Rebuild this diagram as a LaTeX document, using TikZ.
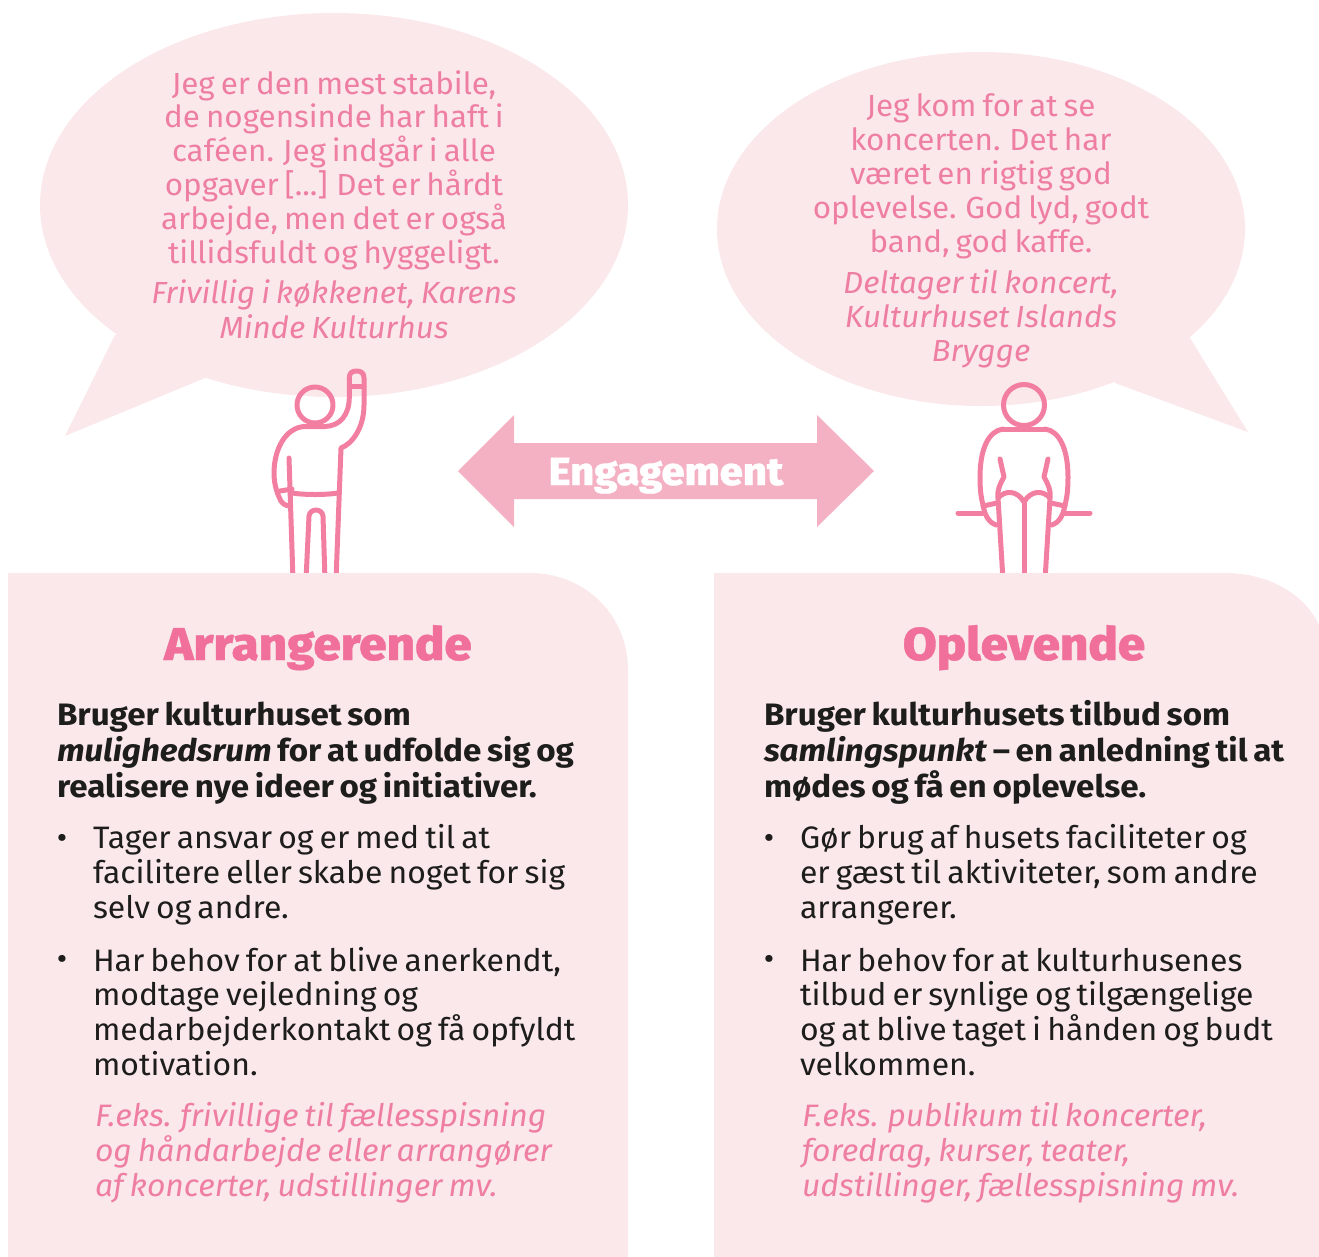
\documentclass[tikz,border=0pt]{standalone}
\usepackage{fontspec}
\setmainfont{Fira Sans}[FakeStretch=1.03,WordSpace=0.72,BoldFont={Fira Sans Bold},BoldItalicFont={Fira Sans Bold Italic},BoldFeatures={FakeStretch=1.07},BoldItalicFeatures={FakeStretch=1.07}]
\newfontfamily\heavy{Fira Sans ExtraBold}[FakeStretch=1.07,FakeBold=0.8]
\definecolor{bubble}{HTML}{FBE8EA}
\definecolor{quotepink}{HTML}{EE7FA3}
\definecolor{figpink}{HTML}{F27FA2}
\definecolor{arrowpink}{HTML}{F5B1C4}
\definecolor{headpink}{HTML}{F0709B}
\definecolor{ink}{HTML}{1D1D1B}
\tikzset{
  figline/.style={draw=figpink,line width=5pt,line cap=round,line join=round},
  para/.style={inner sep=0pt,outer sep=0pt,align=left,anchor=base west,font=\fontsize{31}{34.6}\selectfont,text=ink},
  quotetext/.style={inner sep=0pt,outer sep=0pt,align=center,anchor=base,font=\fontsize{30.5}{33.8}\selectfont,text=quotepink},
  exampletext/.style={para,font=\fontsize{31}{34.6}\itshape\selectfont,text=quotepink},
  title/.style={inner sep=0pt,outer sep=0pt,anchor=base,font=\fontsize{46}{50}\heavy\selectfont,text=headpink},
  lead/.style={para,font=\fontsize{31}{35.6}\bfseries\selectfont},
  dot/.style={inner sep=0pt,outer sep=0pt,anchor=base,font=\fontsize{31}{34}\selectfont,text=ink},
}
\begin{document}
\begin{tikzpicture}[x=1pt,y=-1pt]
\useasboundingbox (0,0) rectangle (1319,1256);
\clip (0,0) rectangle (1319,1256);
% bubbles
\fill[bubble] (334,205) ellipse [x radius=294,y radius=192];
\fill[bubble] (115,335) -- (65,436) -- (205,378) -- (260,300) -- cycle;
\fill[bubble] (981,229) ellipse [x radius=264,y radius=177];
\fill[bubble] (1190,338) -- (1248,432) -- (1115,383) -- (1060,300) -- cycle;
% arrow
\fill[arrowpink] (458,471) -- (514,415) -- (514,443) -- (817,443) -- (817,415) -- (874,471) -- (817,527) -- (817,499) -- (514,499) -- (514,527) -- cycle;
\node[inner sep=0pt,anchor=base,font=\fontsize{39}{42}\heavy\selectfont,text=white] (eng) at (666,485) {Engagement};
% figure 1
\begin{scope}[figline]
\draw (315,405) circle (18);
\draw (349.3,380) -- (349.3,378) .. controls (349.3,373) and (352,371) .. (356.5,371) .. controls (361,371) and (364,373) .. (364,378) -- (364,405) .. controls (364,428) and (352,444) .. (341,448) -- (336,580);
\draw (349.3,386.5) -- (364,386.5);
\draw (349.3,378) -- (349.3,397) .. controls (349.3,415) and (340,426) .. (325,426.5) -- (304,426.5) .. controls (285,428) and (274,450) .. (274,473) .. controls (274,482) and (276,490) .. (279,497) .. controls (281,503) and (285,506) .. (290,506);
\draw (280,491) -- (292,489);
\draw (289,458) -- (293,580);
\draw (292,493) .. controls (305,495) and (325,495) .. (338,493);
\draw (306,580) -- (309,516) .. controls (310,508) and (322,508) .. (323,516) -- (325,580);
\end{scope}
% figure 2
\begin{scope}[figline]
\draw (1024,405) circle (20.5);
\draw (958,513) -- (983,513);
\draw (1065,513) -- (1090,513);
\draw (1003,429) -- (1045,429);
\draw (1003,429) .. controls (988,431) and (980,450) .. (980,477) .. controls (980,490) and (981,497) .. (983,505) .. controls (985,517) and (990,523) .. (996,525);
\draw (1045,429) .. controls (1060,431) and (1068,450) .. (1068,477) .. controls (1068,490) and (1067,497) .. (1065,505) .. controls (1063,517) and (1058,523) .. (1052,525);
\draw (983,506) -- (997,503);
\draw (1065,506) -- (1051,503);
\draw (1000,459) -- (1004,477) .. controls (1000,484) and (997,490) .. (998,498) -- (1003,580);
\draw (1048,459) -- (1044,477) .. controls (1048,484) and (1051,490) .. (1050,498) -- (1045,580);
\draw (998,498) .. controls (1005,490) and (1017,490) .. (1024,502) .. controls (1031,490) and (1043,490) .. (1050,498);
\draw (1024,502) -- (1024,580);
\end{scope}
% panels
\fill[bubble] (8,1260) -- (8,573) -- (530,573) .. controls (585,573) and (628,615) .. (628,670) -- (628,1260) -- cycle;
\fill[bubble] (714,1260) -- (714,573) -- (1225,573) .. controls (1270,573) and (1305,595) .. (1319,625) -- (1319,1260) -- cycle;
% quotes
\node[quotetext] (q1) at (334,263) {Jeg er den mest stabile,\\de nogensinde har haft i\\caféen. Jeg indgår i alle\\opgaver [...] Det er hårdt\\arbejde, men det er også\\tillidsfuldt og hyggeligt.};
\node[quotetext,font=\fontsize{30.5}{34.6}\itshape\selectfont] (q1a) at (334,338) {Frivillig i køkkenet, Karens\\Minde Kulturhus};
\node[quotetext] (q2) at (981,252) {Jeg kom for at se\\koncerten. Det har\\været en rigtig god\\oplevelse. God lyd, godt\\band, god kaffe.};
\node[quotetext,font=\fontsize{30.5}{33.6}\itshape\selectfont] (q2a) at (981,361) {Deltager til koncert,\\Kulturhuset Islands\\Brygge};
% left panel
\node[title] (t1) at (318,660) {Arrangerende};
\node[lead] (l1) at (57,797) {Bruger kulturhuset som\\\textit{mulighedsrum} for at udfolde sig og\\realisere nye ideer og initiativer.};
\node[dot] (d1) at (62,848) {•};
\node[para] (p1) at (93,918) {Tager ansvar og er med til at\\facilitere eller skabe noget for sig\\selv og andre.};
\node[dot] (d2) at (62,969) {•};
\node[para] (p2) at (93,1075) {Har behov for at blive anerkendt,\\modtage vejledning og\\medarbejderkontakt og få opfyldt\\motivation.};
\node[exampletext] (e1) at (95,1196) {F.eks. frivillige til fællesspisning\\og håndarbejde eller arrangører\\af koncerter, udstillinger mv.};
% right panel
\node[title] (t2) at (1024,660) {Oplevende};
\node[lead] (l2) at (764,797) {Bruger kulturhusets tilbud som\\\textit{samlingspunkt} – en anledning til at\\mødes og få en oplevelse.};
\node[dot] (d3) at (769,848) {•};
\node[para] (p3) at (800,918) {Gør brug af husets faciliteter og\\er gæst til aktiviteter, som andre\\arrangerer.};
\node[dot] (d4) at (769,969) {•};
\node[para] (p4) at (800,1075) {Har behov for at kulturhusenes\\tilbud er synlige og tilgængelige\\og at blive taget i hånden og budt\\velkommen.};
\node[exampletext] (e2) at (802,1196) {F.eks. publikum til koncerter,\\foredrag, kurser, teater,\\udstillinger, fællesspisning mv.};
\end{tikzpicture}
\end{document}
